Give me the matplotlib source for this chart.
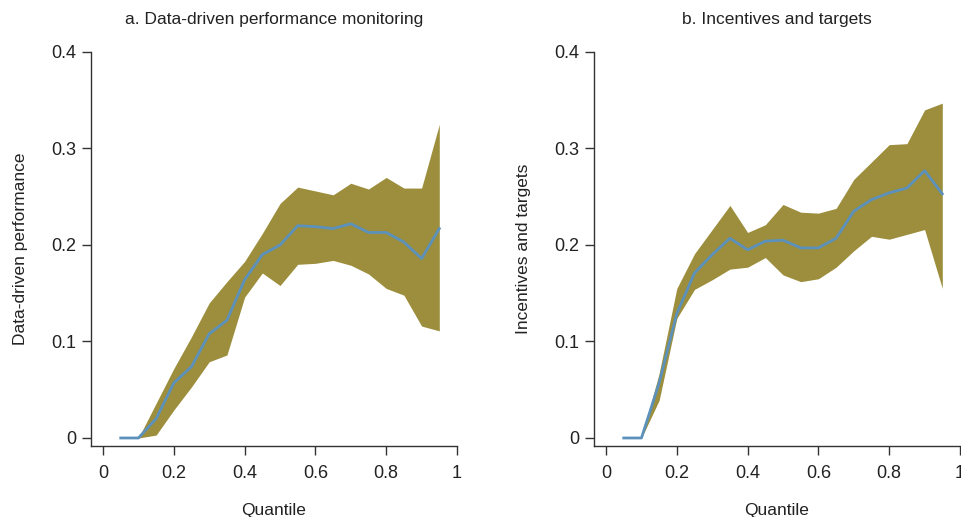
import matplotlib
matplotlib.use("Agg")
import matplotlib.pyplot as plt
from matplotlib import font_manager

# Narrow sans if available, otherwise fall back to Liberation Sans
names = {f.name for f in font_manager.fontManager.ttflist}
family = ['Liberation Sans Narrow', 'DejaVu Sans'] if 'Liberation Sans Narrow' in names else ['Liberation Sans', 'DejaVu Sans']
plt.rcParams['font.family'] = family

quantiles = [0.05, 0.10, 0.15, 0.20, 0.25, 0.30, 0.35, 0.40, 0.45, 0.50,
             0.55, 0.60, 0.65, 0.70, 0.75, 0.80, 0.85, 0.90, 0.95]

# Panel a: data-driven performance monitoring
ddpm_coef = [0.0, 0.0, 0.020, 0.057, 0.074, 0.108, 0.122, 0.164, 0.190, 0.200,
             0.220, 0.219, 0.217, 0.222, 0.213, 0.213, 0.203, 0.186, 0.217]
ddpm_upper = [0.0, 0.0, 0.036, 0.072, 0.105, 0.140, 0.162, 0.183, 0.212, 0.243,
              0.260, 0.256, 0.252, 0.264, 0.258, 0.270, 0.259, 0.259, 0.325]
ddpm_lower = [0.0, 0.0, 0.003, 0.029, 0.053, 0.079, 0.086, 0.146, 0.171, 0.158,
              0.180, 0.181, 0.184, 0.179, 0.170, 0.155, 0.148, 0.116, 0.111]

# Panel b: incentives and targets
inc_coef = [0.0, 0.0, 0.057, 0.129, 0.171, 0.190, 0.207, 0.195, 0.204, 0.205,
            0.197, 0.197, 0.207, 0.235, 0.247, 0.254, 0.259, 0.277, 0.253]
inc_upper = [0.0, 0.0, 0.067, 0.155, 0.191, 0.216, 0.241, 0.213, 0.221, 0.242,
             0.234, 0.233, 0.238, 0.268, 0.286, 0.304, 0.305, 0.340, 0.347]
inc_lower = [0.0, 0.0, 0.039, 0.124, 0.154, 0.164, 0.175, 0.177, 0.187, 0.169,
             0.162, 0.165, 0.177, 0.194, 0.209, 0.206, 0.211, 0.216, 0.155]

panels = [
    ("a. Data-driven performance monitoring", "Data-driven performance",
     ddpm_coef, ddpm_lower, ddpm_upper),
    ("b. Incentives and targets", "Incentives and targets",
     inc_coef, inc_lower, inc_upper),
]

FILL = '#9c8e3c'
LINE = '#5b91bb'

fig = plt.figure(figsize=(9.61, 5.17), dpi=100)
lefts = [91 / 961, 594 / 961]

for left, (title, ylabel, coef, lo, hi) in zip(lefts, panels):
    ax = fig.add_axes([left, 71 / 517, 366 / 961, 394 / 517])
    ax.fill_between(quantiles, lo, hi, color=FILL, linewidth=0)
    ax.plot(quantiles, coef, color=LINE, linewidth=2.0)

    ax.set_xlim(-0.034, 1.0)
    ax.set_ylim(-0.0083, 0.4)
    ax.set_xticks([0, 0.2, 0.4, 0.6, 0.8, 1])
    ax.set_xticklabels(['0', '0.2', '0.4', '0.6', '0.8', '1'])
    ax.set_yticks([0, 0.1, 0.2, 0.3, 0.4])
    ax.set_yticklabels(['0', '0.1', '0.2', '0.3', '0.4'])

    for side in ['top', 'right']:
        ax.spines[side].set_visible(False)
    for side in ['left', 'bottom']:
        ax.spines[side].set_color('#333333')
        ax.spines[side].set_linewidth(1.0)
    ax.tick_params(direction='out', length=6.5, width=1.0, color='#333333',
                   labelsize=13, labelcolor='#222222')
    ax.tick_params(axis='x', pad=7)
    ax.tick_params(axis='y', pad=4)

    ax.set_title(title, fontsize=12.5, pad=20, color='#222222')
    ax.set_xlabel('Quantile', fontsize=12.5, labelpad=15, color='#222222')
    ax.set_ylabel(ylabel, fontsize=12.5, labelpad=17, color='#222222')

fig.savefig('out.png', dpi=100)
